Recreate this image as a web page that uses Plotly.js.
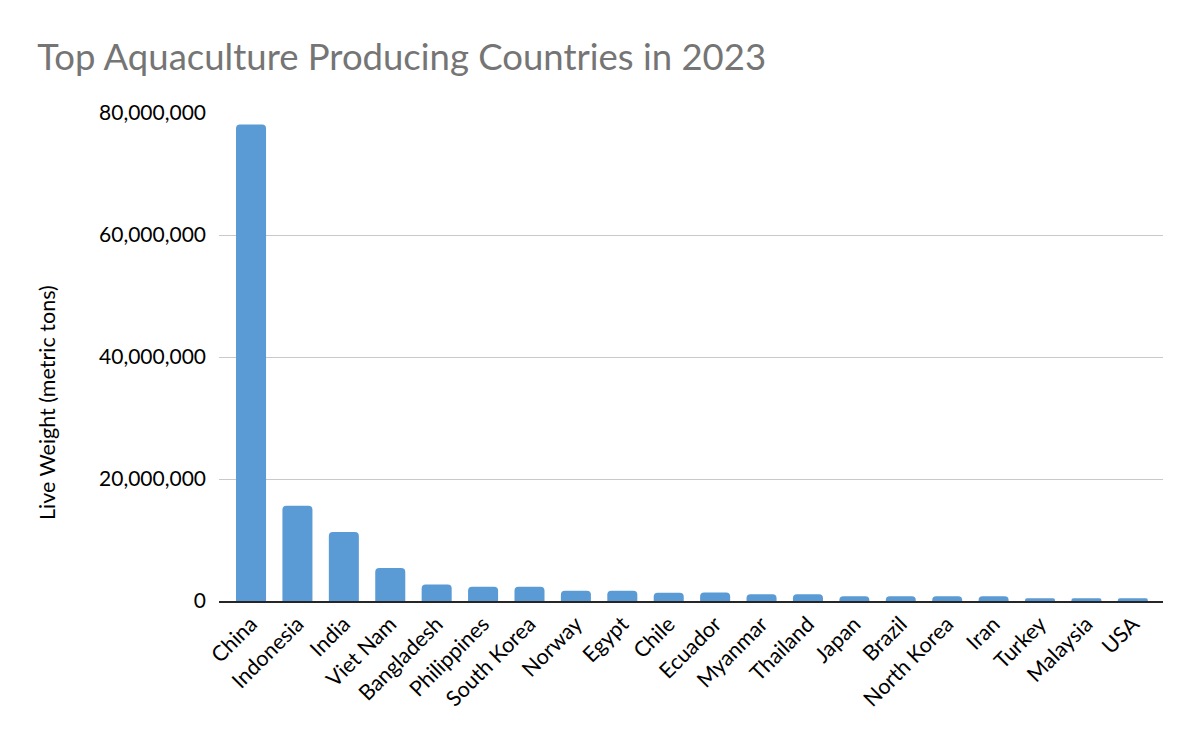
<!DOCTYPE html>
<html>
<head>
<meta charset="utf-8">
<script src="https://cdn.plot.ly/plotly-3.0.1.min.js"></script>
<style>html,body{margin:0;padding:0;background:#fff;}#chart{width:1200px;height:742px;}</style>
</head>
<body>
<div id="chart"></div>
<script>
const countries = ["China","Indonesia","India","Viet Nam","Bangladesh","Philippines","South Korea","Norway","Egypt","Chile","Ecuador","Myanmar","Thailand","Japan","Brazil","North Korea","Iran","Turkey","Malaysia","USA"];
const liveWeight = [78100000,15600000,11300000,5400000,2700000,2350000,2350000,1700000,1700000,1350000,1400000,1100000,1100000,770000,770000,770000,770000,450000,450000,450000];
const yTickVals = [0,20000000,40000000,60000000,80000000];
const yTickText = ["0","20,000,000","40,000,000","60,000,000","80,000,000"];

const font = "Lato, 'Open Sans', 'DejaVu Sans', sans-serif";

Plotly.newPlot("chart", [{
  type: "bar",
  x: countries,
  y: liveWeight,
  marker: {color: "#5b9bd5", cornerradius: 4},
  hoverinfo: "x+y"
}], {
  width: 1200, height: 742,
  paper_bgcolor: "#fff", plot_bgcolor: "#fff",
  margin: {l: 219, r: 37, t: 113, b: 141},
  bargap: 0.353,
  title: {text: "Top Aquaculture Producing Countries in 2023", x: 0.031, xanchor: "left", y: 0.923, yanchor: "middle",
          font: {family: font, size: 36.5, color: "#757575"}},
  xaxis: {
    range: [-0.69, 19.65],
    tickangle: -45, tickfont: {family: font, size: 21.5, color: "#000"},
    showline: true, linecolor: "#262626", linewidth: 2, ticks: "", showgrid: false, zeroline: false
  },
  yaxis: {
    range: [0, 80000000], tickvals: yTickVals, ticktext: yTickText,
    tickfont: {family: font, size: 21, color: "#000"},
    showgrid: true, gridcolor: "#c9c9c9", gridwidth: 1, zeroline: false, showline: false, ticks: "",
    ticklabelstandoff: 12
  },
  annotations: [{
    text: "Live Weight (metric tons)", textangle: -90, showarrow: false,
    xref: "paper", yref: "paper", x: -0.182, y: 0.406, xanchor: "center", yanchor: "middle",
    font: {family: font, size: 21.5, color: "#000"}
  }],
  showlegend: false
}, {displayModeBar: false});
</script>
</body>
</html>
